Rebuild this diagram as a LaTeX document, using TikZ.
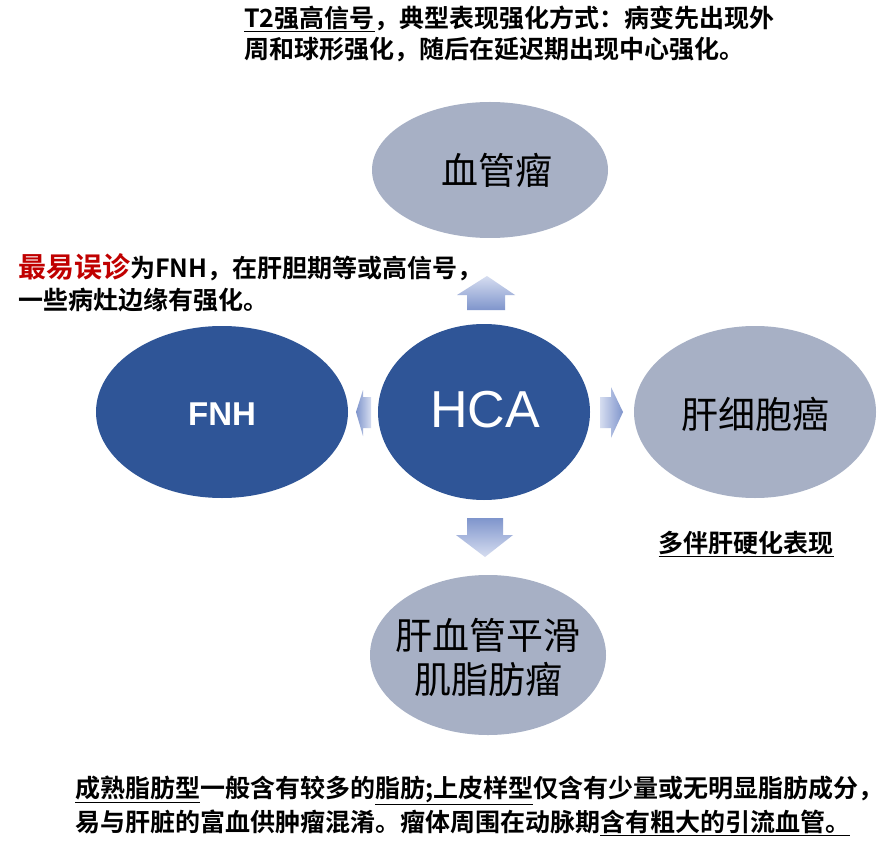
\documentclass[tikz,border=0pt]{standalone}
\usepackage{fontspec}
\newfontfamily\cjk{Noto Sans CJK SC}
\newfontfamily\cjkb{Noto Sans CJK SC Bold}
\setmainfont{Liberation Sans}
\begin{document}
\begin{tikzpicture}[x=1pt,y=-1pt,
  darkell/.style={fill=darkblue},
  grayell/.style={fill=grayblue},
  lbl/.style={font=\cjk\fontsize{37}{44}\selectfont,text=black,align=center},
  note/.style={font=\cjkb\fontsize{25}{31}\selectfont,align=left,inner sep=0pt},
  arrv/.style={top color=arrlight,bottom color=arrdark,draw=none},
  arrd/.style={top color=arrdark,bottom color=arrlight,draw=none},
  arrr/.style={left color=arrlight,right color=arrdark,draw=none},
  arrl/.style={left color=arrdark,right color=arrlight,draw=none}]
\definecolor{darkblue}{HTML}{2F5597}
\definecolor{grayblue}{HTML}{A7B0C5}
\definecolor{arrlight}{HTML}{D6DDF0}
\definecolor{arrdark}{HTML}{7F95CC}
\definecolor{redt}{HTML}{C00000}
\useasboundingbox (0,0) rectangle (896,850);
\fill[white] (0,0) rectangle (896,850);
\path[grayell] (490,170) ellipse [x radius=118,y radius=68];
\path[darkell] (222,412) ellipse [x radius=126,y radius=86];
\path[darkell] (484,412) ellipse [x radius=106,y radius=88];
\path[grayell] (755,412) ellipse [x radius=121,y radius=86];
\path[grayell] (488,655) ellipse [x radius=118,y radius=80];
\node[lbl] (xg) at (497,170) {血管瘤};
\node[font=\bfseries\fontsize{33}{38}\selectfont,text=white] (fnh) at (222,414) {FNH};
\node[font=\fontsize{52}{58}\selectfont,text=white] (hca) at (485,410) {HCA};
\node[lbl] (hcc) at (755,414) {肝细胞癌};
\node[lbl] (aml) at (488,657) {肝血管平滑\\肌脂肪瘤};
% arrows
\shade[arrv] (467,310) -- (467,295) -- (457,295) -- (487,276) -- (515,295) -- (505,295) -- (505,310) -- cycle;
\shade[arrd] (467,518) -- (467,535) -- (456,535) -- (485,557) -- (513,535) -- (503,535) -- (503,518) -- cycle;
\shade[arrr] (600,397) -- (611,397) -- (611,387) -- (623,412) -- (611,438) -- (611,428) -- (600,428) -- cycle;
\shade[arrl] (371,397) -- (363,397) -- (363,390) -- (356,412) -- (363,436) -- (363,428) -- (371,428) -- cycle;
% notes
\node[note,anchor=north west] (t1) at (244,6) {\underline{T2强高信号}，典型表现强化方式：病变先出现外\\周和球形强化，随后在延迟期出现中心强化。};
\node[note,anchor=north west,font=\cjkb\fontsize{25}{32}\selectfont] (t2) at (18,253) {{\color{redt}\fontsize{28}{32}\selectfont 最易误诊}为FNH，在肝胆期等或高信号，\\一些病灶边缘有强化。};
\node[note,font=\cjkb\fontsize{25}{30}\selectfont] (t3) at (746,544) {\underline{多伴肝硬化表现}};
\node[note,anchor=north west,font=\cjkb\fontsize{25}{34}\selectfont] (t4) at (75,776) {\underline{成熟脂肪型}一般含有较多的\underline{脂肪;上皮样型}仅含有少量或无明显脂肪成分，\\易与肝脏的富血供肿瘤混淆。瘤体周围在动脉期\underline{含有粗大的引流血管。}};
\end{tikzpicture}
\end{document}
